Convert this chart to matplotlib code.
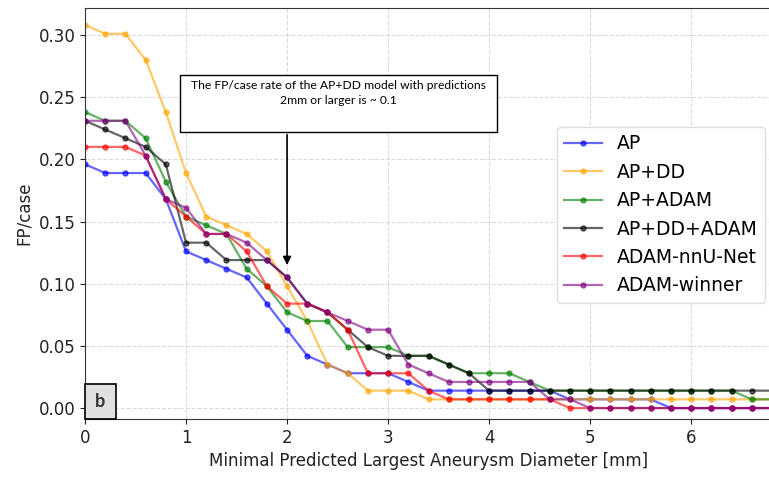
import matplotlib
matplotlib.use("Agg")
import matplotlib.pyplot as plt
from matplotlib.patches import Rectangle

# minimal predicted diameter thresholds (mm)
diam = [0.0, 0.2, 0.4, 0.6, 0.8, 1.0, 1.2, 1.4, 1.6, 1.8, 2.0, 2.2, 2.4, 2.6, 2.8, 3.0, 3.2,
        3.4, 3.6, 3.8, 4.0, 4.2, 4.4, 4.6, 4.8, 5.0, 5.2, 5.4, 5.6, 5.8, 6.0, 6.2, 6.4, 6.6, 6.8]

# FP/case per model
ap = [0.196, 0.189, 0.189, 0.189, 0.168, 0.126, 0.119, 0.112, 0.105, 0.084, 0.063, 0.042,
      0.035, 0.028, 0.028, 0.028, 0.021, 0.014, 0.014, 0.014, 0.014, 0.014, 0.014, 0.014,
      0.007, 0.007, 0.007, 0.007, 0.007, 0.0, 0.0, 0.0, 0.0, 0.0, 0.0]
ap_dd = [0.308, 0.301, 0.301, 0.280, 0.238, 0.189, 0.154, 0.147, 0.140, 0.126, 0.098, 0.070,
         0.035, 0.028, 0.014, 0.014, 0.014, 0.007, 0.007, 0.007, 0.007, 0.007, 0.007, 0.007,
         0.007, 0.007, 0.007, 0.007, 0.007, 0.007, 0.007, 0.007, 0.007, 0.007, 0.007]
ap_adam = [0.238, 0.231, 0.231, 0.217, 0.182, 0.154, 0.147, 0.140, 0.112, 0.098, 0.077, 0.070,
           0.070, 0.049, 0.049, 0.049, 0.042, 0.042, 0.035, 0.028, 0.028, 0.028, 0.021, 0.014,
           0.014, 0.014, 0.014, 0.014, 0.014, 0.014, 0.014, 0.014, 0.014, 0.007, 0.007]
ap_dd_adam = [0.231, 0.224, 0.217, 0.210, 0.196, 0.133, 0.133, 0.119, 0.119, 0.119, 0.105, 0.084,
              0.077, 0.063, 0.049, 0.042, 0.042, 0.042, 0.035, 0.028, 0.014, 0.014, 0.014, 0.014,
              0.014, 0.014, 0.014, 0.014, 0.014, 0.014, 0.014, 0.014, 0.014, 0.014, 0.014]
nnunet = [0.210, 0.210, 0.210, 0.203, 0.168, 0.154, 0.140, 0.140, 0.126, 0.098, 0.084, 0.084,
          0.077, 0.063, 0.028, 0.028, 0.028, 0.014, 0.007, 0.007, 0.007, 0.007, 0.007, 0.007,
          0.0, 0.0, 0.0, 0.0, 0.0, 0.0, 0.0, 0.0, 0.0, 0.0, 0.0]
winner = [0.231, 0.231, 0.231, 0.203, 0.168, 0.161, 0.140, 0.140, 0.133, 0.119, 0.105, 0.084,
          0.077, 0.070, 0.063, 0.063, 0.035, 0.028, 0.021, 0.021, 0.021, 0.021, 0.021, 0.007,
          0.007, 0.0, 0.0, 0.0, 0.0, 0.0, 0.0, 0.0, 0.0, 0.0, 0.0]

labels = ["AP", "AP+DD", "AP+ADAM", "AP+DD+ADAM", "ADAM-nnU-Net", "ADAM-winner"]
colors = ["blue", "orange", "green", "black", "red", "purple"]
series = [ap, ap_dd, ap_adam, ap_dd_adam, nnunet, winner]

fig = plt.figure(figsize=(7.69, 4.78), dpi=100)
ax = fig.add_axes([85 / 769, 59 / 478, 687 / 769, 411 / 478])

for vals, lab, col in zip(series, labels, colors):
    ax.plot(diam, vals, marker="o", markersize=3.6, linewidth=1.6, color=col, alpha=0.6, label=lab)

ax.set_xlim(0, 6.8)
ax.set_ylim(-0.0088, 0.3217)
ax.set_xticks([0, 1, 2, 3, 4, 5, 6])
ax.set_yticks([0.0, 0.05, 0.10, 0.15, 0.20, 0.25, 0.30])
ax.set_yticklabels(["0.00", "0.05", "0.10", "0.15", "0.20", "0.25", "0.30"])
ax.tick_params(labelsize=12, colors="#222222")
ax.grid(True, linestyle="--", color="#cccccc", alpha=0.7)
ax.set_xlabel("Minimal Predicted Largest Aneurysm Diameter [mm]", fontsize=12, color="#222222")
ax.set_ylabel("FP/case", fontsize=12, color="#222222")
for s in ax.spines.values():
    s.set_color("#333333")

ax.legend(loc="upper right", bbox_to_anchor=(0.99, 0.7105), borderaxespad=0,
          fontsize=13.5, framealpha=1.0, edgecolor="#dddddd")

# annotation box + arrow
ax.add_patch(Rectangle((0.94, 0.222), 3.14, 0.0458, facecolor="white",
                       edgecolor="black", linewidth=1.0, zorder=5))
ax.text(2.51, 0.2635, "The FP/case rate of the AP+DD model with predictions\n2mm or larger is ~ 0.1",
        ha="center", va="top", fontsize=8.7, family="Lato", linespacing=1.45, zorder=6)
ax.annotate("", xy=(2.0, 0.1128), xytext=(2.0, 0.222),
            arrowprops=dict(arrowstyle="-|>", color="black", lw=1.2, mutation_scale=12))

# panel label
ax.add_patch(Rectangle((0.0, 0.0), 0.045, 0.085, transform=ax.transAxes, facecolor="#e0e0e0",
                       edgecolor="black", linewidth=1.2, zorder=5, clip_on=False))
ax.text(0.0225, 0.0425, "b", transform=ax.transAxes, ha="center", va="center",
        fontsize=13, family="Lato", fontweight="bold", color="#333333", zorder=6)

fig.savefig("out.png", dpi=100)
